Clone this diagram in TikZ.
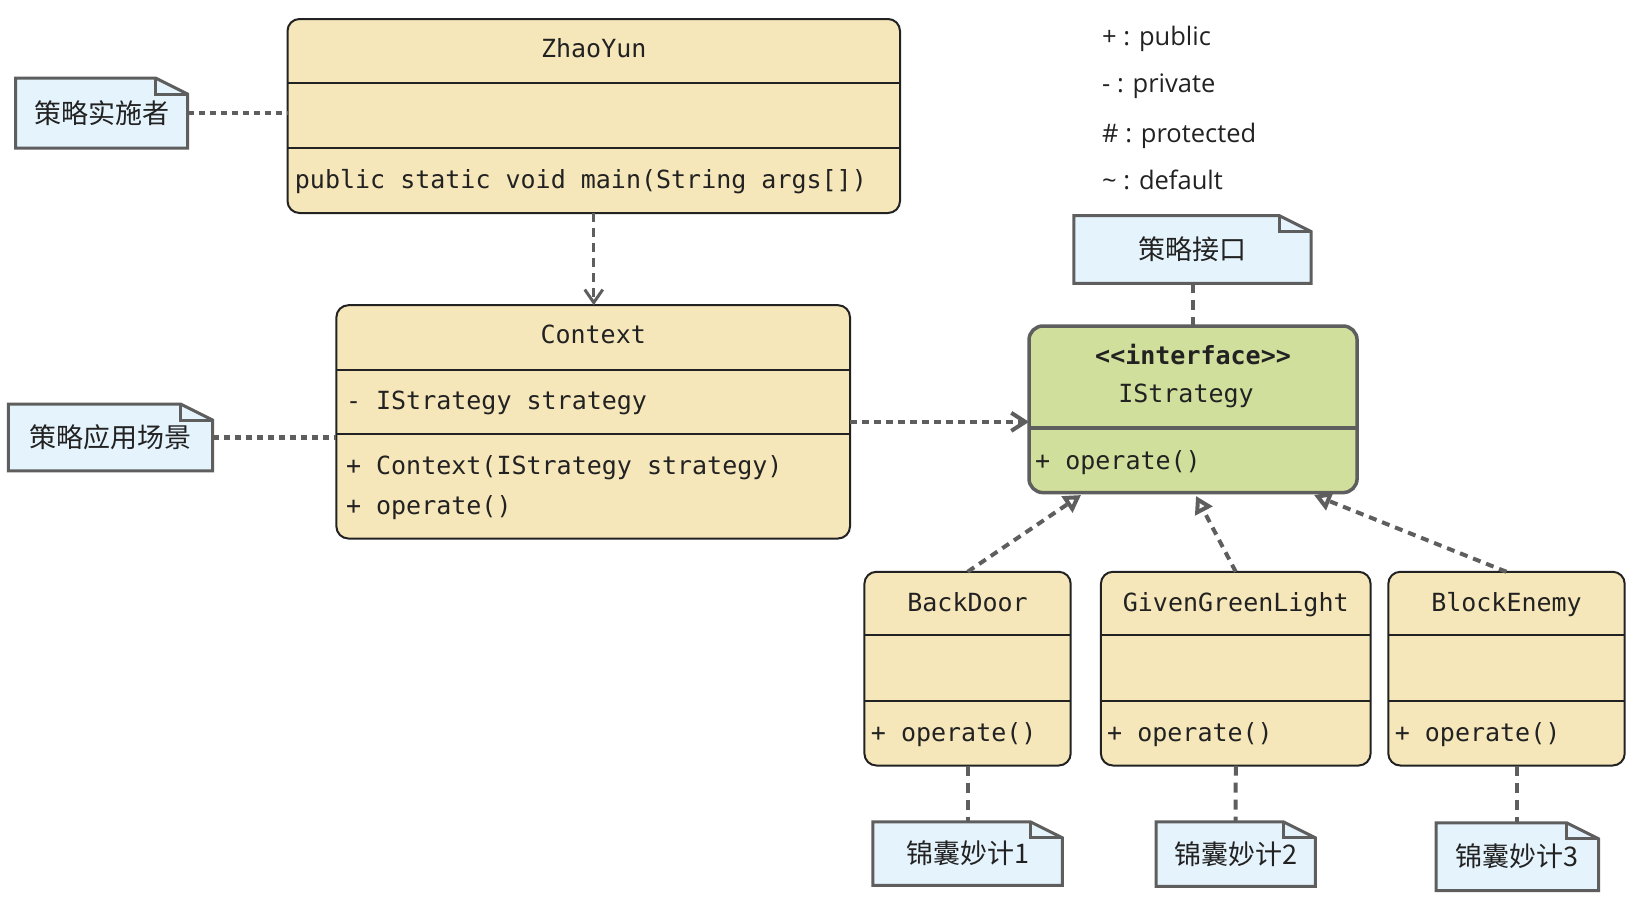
\documentclass[tikz,border=0pt]{standalone}
\usepackage{fontspec}
\setmainfont{Open Sans}
\newfontfamily\monof{DejaVu Sans Mono}
\newfontfamily\cjkf{Noto Sans CJK SC}
\usetikzlibrary{arrows.meta,calc}
\definecolor{beige}{HTML}{F6E7BA}
\definecolor{isgreen}{HTML}{D0DF9C}
\definecolor{notefill}{HTML}{E5F3FC}
\definecolor{edge}{HTML}{5E5E5E}
\definecolor{ink}{HTML}{222222}
\tikzset{
  classbox/.style={draw=ink, fill=beige, line width=2pt, rounded corners=12pt, inner sep=0pt, outer sep=0pt},
  ifacebox/.style={draw=edge, fill=isgreen, line width=3.5pt, rounded corners=14pt, inner sep=0pt, outer sep=0pt},
  sepline/.style={draw=ink, line width=2pt},
  isep/.style={draw=edge, line width=3.5pt},
  mono/.style={font=\monof\fontsize{25}{30}\selectfont, text=ink, inner sep=0pt, text height=18pt, text depth=0pt},
  legend/.style={font=\fontsize{25.5}{30}\selectfont, text=ink, inner sep=0pt, anchor=west, text height=18pt, text depth=0pt},
  notepath/.style={draw=edge, fill=notefill, line width=3pt, line join=miter},
  notetext/.style={font=\cjkf\fontsize{27}{32}\selectfont, text=ink, inner sep=0pt, outer sep=0pt},
  noteline/.style={draw=edge, line width=4.5pt, dash pattern=on 6pt off 5pt},
  vnoteline/.style={draw=edge, line width=4pt, dash pattern=on 10pt off 7pt},
  depline/.style={draw=edge, line width=3pt, dash pattern=on 9pt off 6pt, -{Straight Barb[length=13pt,width=18pt,line width=3pt]}},
  assocline/.style={draw=edge, line width=4pt, dash pattern=on 7pt off 5pt, -{Straight Barb[length=14pt,width=18pt,line width=4pt]}},
  realline/.style={draw=edge, line width=4pt, dash pattern=on 8pt off 6pt, -{Triangle[open,length=17pt,width=19pt,line width=4pt,fill=white]}},
}
\newcommand\notebox[6]{%
  \path[notepath] (#2,#3) -- ({#4-32},#3) -- (#4,{#3+16}) -- (#4,#5) -- (#2,#5) -- cycle;
  \draw[notepath, fill=none] ({#4-32},#3) -- ({#4-32},{#3+16}) -- (#4,{#3+16});
  \node[notetext, minimum width={(#4-#2)*1pt}, minimum height={(#5-#3)*1pt}] (#1) at ({(#2+#4)/2},{(#3+#5)/2}) {#6};
}
\begin{document}
\begin{tikzpicture}[x=1pt,y=-1pt]
\fill[white] (0,0) rectangle (1633,897);
\useasboundingbox (0,0) rectangle (1633,897);

% ZhaoYun
\node[classbox, minimum width=612.5pt, minimum height=194pt] (zy) at (593.75,116) {};
\draw[sepline] (zy.west |- 0,83.3) -- (zy.east |- 0,83.3);
\draw[sepline] (zy.west |- 0,148) -- (zy.east |- 0,148);
\node[mono] (zyt) at (593.75,48) {ZhaoYun};
\node[mono, anchor=west] (zym) at (294.7,179) {public static void main(String args[])};

% Context
\node[classbox, minimum width=513.6pt, minimum height=233.3pt] (ctx) at (593.2,421.85) {};
\draw[sepline] (ctx.west |- 0,369.7) -- (ctx.east |- 0,369.7);
\draw[sepline] (ctx.west |- 0,434.3) -- (ctx.east |- 0,434.3);
\node[mono] (ctxt) at (593.2,334.3) {Context};
\node[mono, anchor=west] (ctxa) at (345.8,400) {- IStrategy strategy};
\node[mono, anchor=west] (ctxm1) at (345.8,465.6) {+ Context(IStrategy strategy)};
\node[mono, anchor=west] (ctxm2) at (345.8,505.1) {+ operate()};

% IStrategy
\node[ifacebox, minimum width=328.1pt, minimum height=166.6pt] (is) at (1193.05,409.3) {};
\draw[isep] (is.west |- 0,428) -- (is.east |- 0,428);
\node[mono, font=\monof\bfseries\fontsize{25}{30}\selectfont] (ist1) at (1193.05,355.2) {{<}{<}interface{>}{>}};
\node[mono] (ist2) at (1186,393.7) {IStrategy};
\node[mono, anchor=west] (ism) at (1035,460.3) {+ operate()};

% BackDoor
\node[classbox, minimum width=206.3pt, minimum height=193.7pt] (bd) at (967.55,668.65) {};
\draw[sepline] (bd.west |- 0,635.3) -- (bd.east |- 0,635.3);
\draw[sepline] (bd.west |- 0,700.9) -- (bd.east |- 0,700.9);
\node[mono] (bdt) at (967.55,602) {BackDoor};
\node[mono, anchor=west] (bdm) at (870.7,732.2) {+ operate()};

% GivenGreenLight
\node[classbox, minimum width=269.7pt, minimum height=193.7pt] (ggl) at (1235.75,668.65) {};
\draw[sepline] (ggl.west |- 0,635.3) -- (ggl.east |- 0,635.3);
\draw[sepline] (ggl.west |- 0,700.9) -- (ggl.east |- 0,700.9);
\node[mono] (gglt) at (1235.75,602) {GivenGreenLight};
\node[mono, anchor=west] (gglm) at (1107,732.2) {+ operate()};

% BlockEnemy
\node[classbox, minimum width=236.4pt, minimum height=193.7pt] (be) at (1506.5,668.65) {};
\draw[sepline] (be.west |- 0,635.3) -- (be.east |- 0,635.3);
\draw[sepline] (be.west |- 0,700.9) -- (be.east |- 0,700.9);
\node[mono] (bet) at (1506.5,602) {BlockEnemy};
\node[mono, anchor=west] (bem) at (1394.6,732.2) {+ operate()};

% legend
\node[legend] (l1) at (1102,36.5) {+ : public};
\node[legend] (l2) at (1102,83.3) {- : private};
\node[legend] (l3) at (1102,133.3) {\# : protected};
\node[legend] (l4) at (1102,180.2) {\textasciitilde{} : default};

% notes
\notebox{n1}{15.6}{78}{187.5}{148}{策略实施者}
\notebox{n2}{8.3}{404}{212.5}{470.8}{策略应用场景}
\notebox{n3}{1073.8}{215.6}{1311.2}{283.3}{策略接口}
\notebox{n4}{872.8}{821.8}{1062.3}{885.3}{锦囊妙计1}
\notebox{n5}{1156}{821.8}{1315.4}{886.3}{锦囊妙计2}
\notebox{n6}{1436.2}{822.8}{1598.7}{890.5}{锦囊妙计3}

% note connectors
\draw[noteline] (n1.east) -- (zy.west |- n1.east);
\draw[noteline] (n2.east) -- (n2.east -| ctx.west);
\draw[vnoteline] (n3.south) -- (n3.south |- is.north);
\draw[vnoteline] (bd.south) -- (n4.north);
\draw[vnoteline] (ggl.south) -- (n5.north);
\draw[vnoteline] (n6.north |- be.south) -- (n6.north);

% relations
\draw[depline] (zy.south) -- (zy.south |- ctx.north);
\draw[assocline] (ctx.east) -- (ctx.east -| is.west);
\coordinate (t1) at (1081,495);
\coordinate (t2) at (1196,496);
\coordinate (t3) at (1314,495);
\draw[realline] (bd.north) -- (t1);
\draw[realline] (ggl.north) -- (t2);
\draw[realline] (be.north) -- (t3);
\end{tikzpicture}
\end{document}
